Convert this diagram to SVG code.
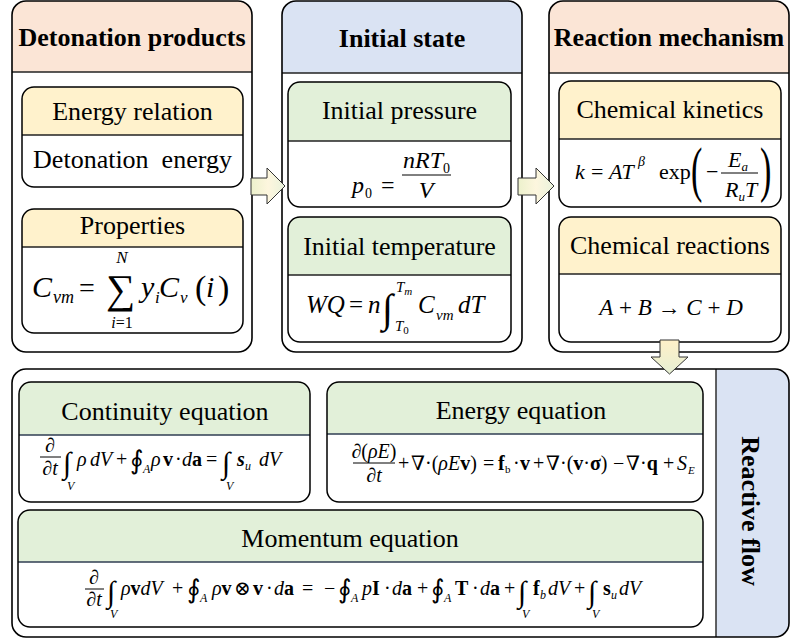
<svg xmlns="http://www.w3.org/2000/svg" width="803" height="639" viewBox="0 0 803 639">
<defs>
<style>
.t{font-family:"Liberation Serif","Times New Roman","DejaVu Serif",serif;fill:#000}
.h{font-size:26px;font-weight:bold;text-anchor:middle}
.s{font-size:26px;text-anchor:middle}
.i{font-style:italic}
.b{font-weight:bold}
.c{text-anchor:middle}
.ob{fill:none;stroke:#000;stroke-width:1.6}
.ib{fill:none;stroke:#000;stroke-width:1.5}
.dv{stroke:#222;stroke-width:1.4}
.dvb{stroke:#2f3e52;stroke-width:1.4}
.fb{stroke:#000;stroke-width:1}
.peach{fill:#fbe5d6}
.blue{fill:#dae3f3}
.yel{fill:#fff2cc}
.grn{fill:#e2f0d9}
.arr{stroke:#333;stroke-width:1}
.int{font-size:30px}
.oint{font-size:26px}
.sb{font-size:12px;font-style:italic}
</style>
<linearGradient id="gH" x1="0" y1="0" x2="1" y2="0">
<stop offset="0" stop-color="#ecf1cc"/>
<stop offset="0.5" stop-color="#fdf6de"/>
<stop offset="1" stop-color="#e9f2dc"/>
</linearGradient>
<linearGradient id="gV" x1="0" y1="0" x2="0" y2="1">
<stop offset="0" stop-color="#fff0c8"/>
<stop offset="1" stop-color="#e6f0d4"/>
</linearGradient>
</defs>
<rect width="803" height="639" fill="#fff"/>

<!-- Panel 1: Detonation products -->
<g id="detonation-products">
<path class="peach" d="M12,72 V15 A14,14 0 0 1 26,1 H238 A14,14 0 0 1 252,15 V72 Z"/>
<line x1="12" y1="72" x2="252" y2="72" class="dv"/>
<rect class="ob" x="12" y="1" width="240" height="351" rx="14"/>
<text class="t h" x="132" y="46">Detonation products</text>
</g>
<g id="energy-relation">
<path class="yel" d="M22,135 V99 A12,12 0 0 1 34,87 H231 A12,12 0 0 1 243,99 V135 Z"/>
<line x1="22" y1="135" x2="243" y2="135" class="dv"/>
<rect class="ib" x="22" y="87" width="221" height="100" rx="12"/>
<text class="t s" x="132.5" y="120">Energy relation</text>
<text class="t s" x="132.5" y="168" xml:space="preserve">Detonation  energy</text>
</g>
<g id="properties">
<path class="yel" d="M22,247 V221 A12,12 0 0 1 34,209 H231 A12,12 0 0 1 243,221 V247 Z"/>
<line x1="22" y1="247" x2="243" y2="247" class="dv"/>
<rect class="ib" x="22" y="209" width="221" height="124" rx="12"/>
<text class="t s" x="132.5" y="234">Properties</text>
<g class="t">
<text x="32" y="297" font-size="30" class="i">C</text>
<text x="53" y="303" font-size="18" class="i">vm</text>
<text x="79" y="297" font-size="28">=</text>
<text x="106" y="303" font-size="41">∑</text>
<text x="122" y="263" font-size="17" class="i c">N</text>
<text x="122" y="328" font-size="16" class="c"><tspan class="i">i</tspan>=1</text>
<text x="141" y="297" font-size="30" class="i">y</text>
<text x="155" y="303" font-size="17" class="i">i</text>
<text x="159" y="297" font-size="30" class="i">C</text>
<text x="180" y="303" font-size="17" class="i">v</text>
<text x="195" y="299" font-size="34">(</text>
<text x="206" y="297" font-size="30" class="i">i</text>
<text x="218" y="299" font-size="34">)</text>
</g>
</g>

<!-- Panel 2: Initial state -->
<g id="initial-state">
<path class="blue" d="M282,73 V15 A14,14 0 0 1 296,1 H508 A14,14 0 0 1 522,15 V73 Z"/>
<line x1="282" y1="73" x2="522" y2="73" class="dv"/>
<rect class="ob" x="282" y="1" width="240" height="351" rx="14"/>
<text class="t h" x="402" y="47">Initial state</text>
</g>
<g id="initial-pressure">
<path class="grn" d="M288,141 V94 A12,12 0 0 1 300,82 H499 A12,12 0 0 1 511,94 V141 Z"/>
<line x1="288" y1="141" x2="511" y2="141" class="dv"/>
<rect class="ib" x="288" y="82" width="223" height="125" rx="12"/>
<text class="t s" x="399.5" y="119">Initial pressure</text>
<g class="t" font-size="24">
<text x="352" y="193" class="i">p</text>
<text x="365" y="198" font-size="14">0</text>
<text x="381" y="193">=</text>
<text x="403" y="168" class="i">nRT</text>
<text x="443" y="173" font-size="14">0</text>
<line x1="402" y1="175" x2="451" y2="175" class="fb"/>
<text x="426" y="198" class="i c">V</text>
</g>
</g>
<g id="initial-temperature">
<path class="grn" d="M288,275 V229 A12,12 0 0 1 300,217 H499 A12,12 0 0 1 511,229 V275 Z"/>
<line x1="288" y1="275" x2="511" y2="275" class="dv"/>
<rect class="ib" x="288" y="217" width="223" height="125" rx="12"/>
<text class="t s" x="399.5" y="255">Initial temperature</text>
<g class="t" font-size="25">
<text x="306" y="313" class="i">WQ</text>
<text x="349" y="313">=</text>
<text x="368" y="313" class="i">n</text>
<text x="382" y="322" font-size="40">∫</text>
<text x="396" y="292" font-size="15" class="i">T<tspan font-size="11" dy="3">m</tspan></text>
<text x="395" y="331" font-size="15" class="i">T<tspan font-size="11" dy="3" font-style="normal">0</tspan></text>
<text x="418" y="313" class="i">C</text>
<text x="436" y="320" font-size="15" class="i">vm</text>
<text x="458" y="313" class="i">dT</text>
</g>
</g>

<!-- Panel 3: Reaction mechanism -->
<g id="reaction-mechanism">
<path class="peach" d="M549,73 V15 A14,14 0 0 1 563,1 H775 A14,14 0 0 1 789,15 V73 Z"/>
<line x1="549" y1="73" x2="789" y2="73" class="dv"/>
<rect class="ob" x="549" y="1" width="240" height="351" rx="14"/>
<text class="t h" x="669" y="46">Reaction mechanism</text>
</g>
<g id="chemical-kinetics">
<path class="yel" d="M559,139 V93 A12,12 0 0 1 571,81 H769 A12,12 0 0 1 781,93 V139 Z"/>
<line x1="559" y1="139" x2="781" y2="139" class="dv"/>
<rect class="ib" x="559" y="81" width="222" height="126" rx="12"/>
<text class="t s" x="670" y="118">Chemical kinetics</text>
<g class="t" font-size="22">
<text x="575" y="179" class="i">k</text>
<text x="591" y="179">=</text>
<text x="609" y="179" class="i">AT</text>
<text x="638" y="166" font-size="14" class="i">β</text>
<text x="659" y="179">exp</text>
<text transform="translate(691,190) scale(0.55,1)" font-size="62">(</text>
<text x="706" y="179">−</text>
<text x="728" y="167" class="i">E<tspan font-size="13" dy="4">a</tspan></text>
<line x1="721" y1="173" x2="758" y2="173" class="fb"/>
<text x="725" y="197" class="i">R<tspan font-size="13" dy="4">u</tspan><tspan dy="-4">T</tspan></text>
<text transform="translate(760,190) scale(0.55,1)" font-size="62">)</text>
</g>
</g>
<g id="chemical-reactions">
<path class="yel" d="M559,274 V229 A12,12 0 0 1 571,217 H769 A12,12 0 0 1 781,229 V274 Z"/>
<line x1="559" y1="274" x2="781" y2="274" class="dv"/>
<rect class="ib" x="559" y="217" width="222" height="125" rx="12"/>
<text class="t s" x="670" y="254">Chemical reactions</text>
<text class="t c" x="671" y="315" font-size="23"><tspan class="i">A</tspan> + <tspan class="i">B</tspan> → <tspan class="i">C</tspan> + <tspan class="i">D</tspan></text>
</g>

<!-- Bottom panel: Reactive flow -->
<g id="reactive-flow">
<path class="blue" d="M716,369 H775 A14,14 0 0 1 789,383 V623 A14,14 0 0 1 775,637 H716 Z"/>
<line x1="716" y1="369" x2="716" y2="637" class="dv"/>
<rect class="ob" x="12" y="369" width="777" height="268" rx="14"/>
<text class="t h" transform="translate(742,511) rotate(90)" x="0" y="0">Reactive flow</text>
</g>
<g id="continuity-equation">
<path class="grn" d="M19,435 V394 A12,12 0 0 1 31,382 H298 A12,12 0 0 1 310,394 V435 Z"/>
<line x1="19" y1="435" x2="310" y2="435" class="dvb"/>
<rect class="ib" x="19" y="382" width="291" height="120" rx="12"/>
<text class="t s" x="165" y="420">Continuity equation</text>
<g class="t" font-size="20">
<text x="50" y="452" class="c">∂</text>
<line x1="40" y1="457" x2="61" y2="457" class="fb"/>
<text x="50" y="475" class="c">∂<tspan class="i">t</tspan></text>
<text x="63" y="473" class="int">∫</text>
<text x="67" y="490" class="sb">V</text>
<text x="77" y="466" class="i">ρ</text>
<text x="90" y="466" class="i">dV</text>
<text x="116" y="466">+</text>
<text x="130" y="469" class="oint">∮</text>
<text x="143" y="473" class="sb">A</text>
<text x="151" y="466" class="i">ρ</text>
<text x="163" y="466" class="b">v</text>
<text x="175" y="466">·</text>
<text x="182" y="466" class="i">d</text>
<text x="192" y="466" class="b">a</text>
<text x="206" y="466">=</text>
<text x="222" y="473" class="int">∫</text>
<text x="226" y="490" class="sb">V</text>
<text x="237" y="466" class="b i">s</text>
<text x="245" y="470" class="sb">u</text>
<text x="259" y="466" class="i">dV</text>
</g>
</g>
<g id="energy-equation">
<path class="grn" d="M327,434 V394 A12,12 0 0 1 339,382 H691 A12,12 0 0 1 703,394 V434 Z"/>
<line x1="327" y1="434" x2="703" y2="434" class="dvb"/>
<rect class="ib" x="327" y="382" width="376" height="120" rx="12"/>
<text class="t s" x="521" y="419">Energy equation</text>
<g class="t" font-size="20">
<text x="374" y="458" class="c">∂(<tspan class="i">ρE</tspan>)</text>
<line x1="353" y1="463" x2="395" y2="463" class="fb"/>
<text x="374" y="482" class="c">∂<tspan class="i">t</tspan></text>
<text x="398" y="470">+</text>
<text x="411" y="470">∇·(<tspan class="i">ρE</tspan><tspan class="b">v</tspan>)</text>
<text x="483" y="470">=</text>
<text x="498" y="470" class="b">f</text>
<text x="505" y="473" font-size="11">b</text>
<text x="513" y="470">·</text>
<text x="520" y="470" class="b">v</text>
<text x="533" y="470">+</text>
<text x="546" y="470">∇·(<tspan class="b">v</tspan>·<tspan class="b">σ</tspan>)</text>
<text x="613" y="470">−</text>
<text x="626" y="470">∇·<tspan class="b">q</tspan></text>
<text x="663" y="470">+</text>
<text x="677" y="470" class="i">S</text>
<text x="688" y="474" font-size="11" class="i">E</text>
</g>
</g>
<g id="momentum-equation">
<path class="grn" d="M18,562 V522 A12,12 0 0 1 30,510 H691 A12,12 0 0 1 703,522 V562 Z"/>
<line x1="18" y1="562" x2="703" y2="562" class="dvb"/>
<rect class="ib" x="18" y="510" width="685" height="117" rx="12"/>
<text class="t s" x="350" y="547">Momentum equation</text>
<g class="t" font-size="20">
<text x="94" y="584" class="c">∂</text>
<line x1="85" y1="589" x2="104" y2="589" class="fb"/>
<text x="94" y="606" class="c">∂<tspan class="i">t</tspan></text>
<text x="107" y="602" class="int">∫</text>
<text x="110" y="618" class="sb">V</text>
<text x="121" y="595"><tspan class="i">ρ</tspan><tspan class="b">v</tspan><tspan class="i">dV</tspan></text>
<text x="172" y="595">+</text>
<text x="187" y="598" class="oint">∮</text>
<text x="200" y="602" class="sb">A</text>
<text x="212" y="595"><tspan class="i">ρ</tspan><tspan class="b">v</tspan></text>
<text x="234" y="595">⊗</text>
<text x="253" y="595" class="b">v</text>
<text x="266" y="595">·</text>
<text x="274" y="595"><tspan class="i">d</tspan><tspan class="b">a</tspan></text>
<text x="302" y="595">=</text>
<text x="324" y="595">−</text>
<text x="338" y="598" class="oint">∮</text>
<text x="351" y="602" class="sb">A</text>
<text x="362" y="595"><tspan class="i">p</tspan><tspan class="b">I</tspan></text>
<text x="384" y="595">·</text>
<text x="392" y="595"><tspan class="i">d</tspan><tspan class="b">a</tspan></text>
<text x="417" y="595">+</text>
<text x="431" y="598" class="oint">∮</text>
<text x="444" y="602" class="sb">A</text>
<text x="455" y="595" class="b">T</text>
<text x="472" y="595">·</text>
<text x="480" y="595"><tspan class="i">d</tspan><tspan class="b">a</tspan></text>
<text x="504" y="595">+</text>
<text x="518" y="602" class="int">∫</text>
<text x="522" y="618" class="sb">V</text>
<text x="533" y="595" class="b">f</text>
<text x="540" y="599" class="sb">b</text>
<text x="548" y="595" class="i">dV</text>
<text x="574" y="595">+</text>
<text x="588" y="602" class="int">∫</text>
<text x="592" y="618" class="sb">V</text>
<text x="603" y="595" class="b">s</text>
<text x="611" y="599" class="sb">u</text>
<text x="619" y="595" class="i">dV</text>
</g>
</g>

<!-- Connectors -->
<g id="connectors">
<path class="arr" fill="url(#gH)" d="M251,178 H267 V168 L285,186 L267,204 V195 H251 Z"/>
<path class="arr" fill="url(#gH)" d="M518,178 H536 V168 L554,186 L536,204 V195 H518 Z"/>
<path class="arr" fill="url(#gV)" d="M660,340 H679 V357 H688 L669.5,374 L651,357 H660 Z"/>
</g>
</svg>
